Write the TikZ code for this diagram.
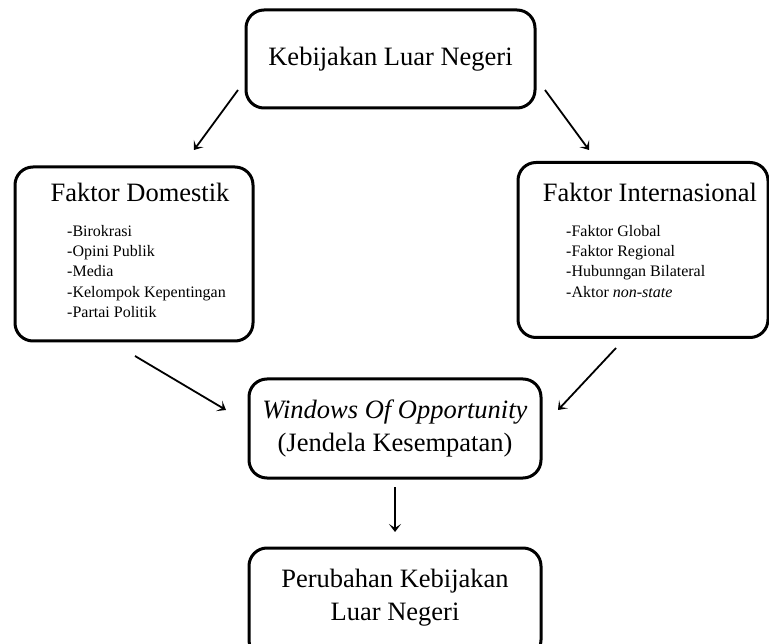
\documentclass[tikz,border=0pt]{standalone}
\usepackage{fontspec}
\setmainfont{Liberation Serif}
\usetikzlibrary{arrows.meta}
\begin{document}
\begin{tikzpicture}[x=1pt,y=-1pt,
  box/.style={draw=black, line width=3pt, rounded corners=18pt, inner sep=0pt},
  big/.style={font=\fontsize{26.5}{33}\selectfont, align=center, inner sep=0pt},
  small/.style={font=\fontsize{16}{20.3}\selectfont, align=left, inner sep=0pt},
  arr/.style={line width=1.8pt, -{Stealth[length=8pt,width=12pt,inset=4pt]}}]
\useasboundingbox (0,0) rectangle (769,644);
% boxes
\node[box, minimum width=289pt, minimum height=98pt] (top) at (390.5,59) {};
\node[box, minimum width=238pt, minimum height=174pt] (dom) at (134,254) {};
\node[box, minimum width=250pt, minimum height=175pt] (int) at (643,250) {};
\node[box, minimum width=292pt, minimum height=99pt] (win) at (395,428.5) {};
\node[box, minimum width=292pt, minimum height=110pt] (per) at (395,603) {};
% texts
\node[big] (toptxt) at (top.center) {Kebijakan Luar Negeri};
\node[big] (domtitle) at (140,192) {Faktor Domestik};
\node[small, anchor=north west] (domlist) at (67,225) {-Birokrasi\\-Opini Publik\\-Media\\-Kelompok Kepentingan\\-Partai Politik};
\node[big] (inttitle) at (650,192) {Faktor Internasional};
\node[small, anchor=north west] (intlist) at (566,225) {-Faktor Global\\-Faktor Regional\\-Hubunngan Bilateral\\-Aktor \textit{non-state}};
\node[big] (wintxt) at (395,428) {\textit{Windows Of Opportunity}\\(Jendela Kesempatan)};
\node[big] (pertxt) at (395,598) {Perubahan Kebijakan\\Luar Negeri};
% arrow ends
\coordinate (a1s) at (238,90);
\coordinate (a1e) at (194,150);
\coordinate (a2s) at (545,90);
\coordinate (a2e) at (589,150);
\coordinate (a3s) at (135,356);
\coordinate (a3e) at (226,410);
\coordinate (a4s) at (616,348);
\coordinate (a4e) at (558,410);
\coordinate (a5s) at (395,487);
\coordinate (a5e) at (395,532);
\draw[arr] (a1s) -- (a1e);
\draw[arr] (a2s) -- (a2e);
\draw[arr] (a3s) -- (a3e);
\draw[arr] (a4s) -- (a4e);
\draw[arr] (a5s) -- (a5e);
\end{tikzpicture}
\end{document}
